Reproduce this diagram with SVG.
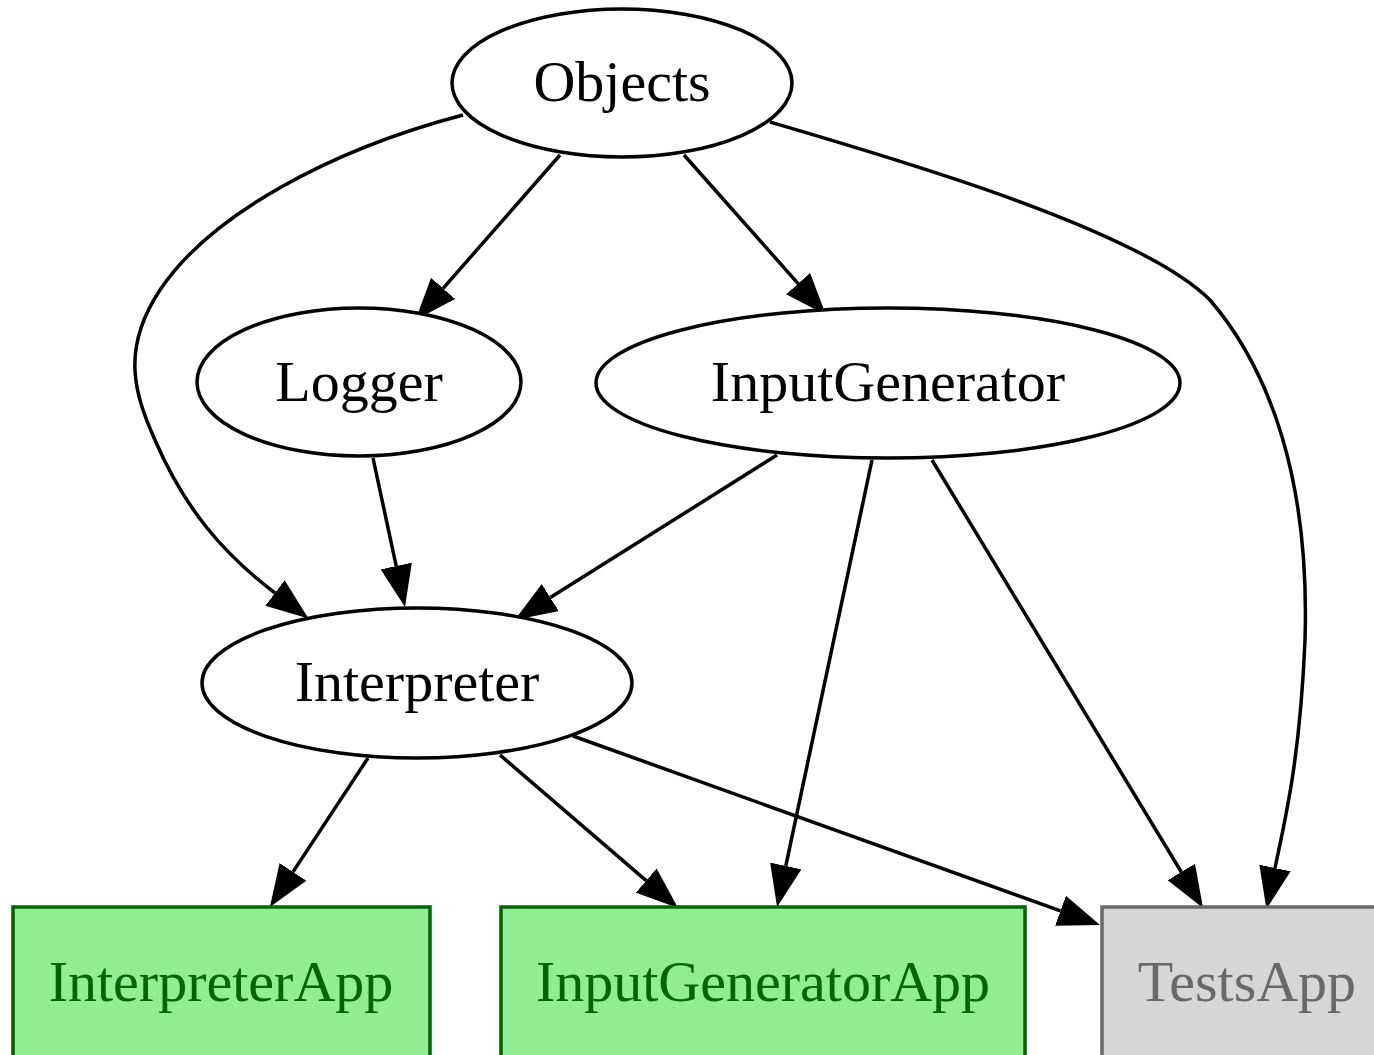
<svg xmlns="http://www.w3.org/2000/svg" width="1374" height="1055" viewBox="0 0 1374 1055">
<style>
.n{fill:#ffffff;stroke:#000000;stroke-width:3.5}
.t{font-family:"Liberation Serif","Times New Roman",serif;font-size:58px;text-anchor:middle;fill:#000000}
.g{fill:#90ee90;stroke:#006400;stroke-width:3.5}
.gt{fill:#006400}
.y{fill:#d6d6d6;stroke:#696969;stroke-width:3.5}
.yt{fill:#696969}
.e{fill:none;stroke:#000000;stroke-width:3.5;marker-end:url(#ah)}
</style>
<defs>
<marker id="ah" markerUnits="userSpaceOnUse" viewBox="0 0 42 32" markerWidth="42" markerHeight="32" refX="0" refY="16" orient="auto">
<path d="M0,0 L42,16 L0,32 Z" fill="#000000"/>
</marker>
</defs>
<rect width="1374" height="1055" fill="#ffffff"/>
<g id="edges">
<path class="e" d="M560,155 L443.1,288.4"/>
<path class="e" d="M684,155 L798.1,283.6"/>
<path class="e" d="M463,115 C330,150 210,215 160,290 C120,350 135,395 155,440 C185,510 225,555 275,593"/>
<path class="e" d="M770,122 C900,160 1140,230 1210,300 C1270,370 1310,480 1305,640 C1300,760 1285,820 1275,868"/>
<path class="e" d="M373,458 L396.2,566"/>
<path class="e" d="M777,455 L550.3,597.6"/>
<path class="e" d="M872,460 L785.8,865.9"/>
<path class="e" d="M932,460 L1181.3,872"/>
<path class="e" d="M368,758 L293,871.9"/>
<path class="e" d="M500,755 L646.2,880.6"/>
<path class="e" d="M573,736 L1060.5,910.8"/>
</g>
<g id="Objects">
<ellipse class="n" cx="622" cy="83" rx="170" ry="74"/>
<text class="t" x="622" y="101">Objects</text>
</g>
<g id="Logger">
<ellipse class="n" cx="359" cy="382" rx="162" ry="74"/>
<text class="t" x="359" y="401">Logger</text>
</g>
<g id="InputGenerator">
<ellipse class="n" cx="888" cy="383" rx="292" ry="75"/>
<text class="t" x="888" y="401">InputGenerator</text>
</g>
<g id="Interpreter">
<ellipse class="n" cx="417" cy="683" rx="215" ry="75"/>
<text class="t" x="417" y="701">Interpreter</text>
</g>
<g id="InterpreterApp">
<rect class="g" x="13" y="907" width="417" height="150"/>
<text class="t gt" x="221" y="1001">InterpreterApp</text>
</g>
<g id="InputGeneratorApp">
<rect class="g" x="501" y="907" width="524" height="150"/>
<text class="t gt" x="763" y="1001">InputGeneratorApp</text>
</g>
<g id="TestsApp">
<rect class="y" x="1102" y="907" width="290" height="150"/>
<text class="t yt" x="1247" y="1001">TestsApp</text>
</g>
</svg>
